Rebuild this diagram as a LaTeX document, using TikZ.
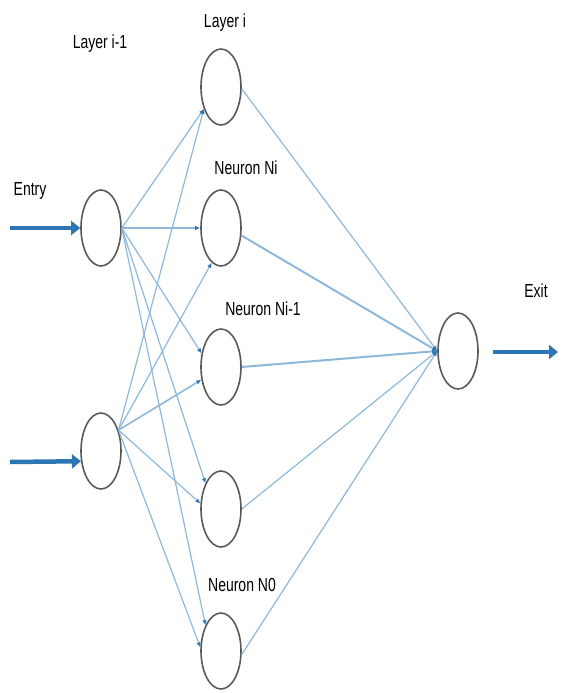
\documentclass[tikz,border=0pt]{standalone}
\usepackage{fontspec}
\setmainfont{Liberation Sans}
\usetikzlibrary{shapes,arrows.meta,positioning}
\definecolor{linkblue}{RGB}{141,184,220}
\definecolor{tipblue}{RGB}{46,117,182}
\definecolor{ringgray}{RGB}{89,89,89}
\newcommand{\stretchtxt}[1]{\scalebox{1}[1.35]{#1}}

\begin{document}
\begin{tikzpicture}[x=1pt, y=-1pt,
    neuron/.style={ellipse, draw=ringgray, line width=1.6pt, minimum width=40pt, minimum height=76pt, inner sep=0pt},
    link/.style={draw=linkblue, line width=1.2pt, -{Latex[length=5pt,width=4.5pt,color=tipblue]}},
    io/.style={draw=tipblue, line width=4.5pt, -{Triangle[length=9pt,width=14pt]}},
    tag/.style={font=\fontsize{14}{16}\selectfont, inner sep=0pt}]
    \useasboundingbox (0,0) rectangle (560,693);

    \node (a1) [neuron] at (101,228) {};
    \node (a2) [neuron] at (101,451) {};
    \node (b1) [neuron] at (221,87) {};
    \node (b2) [neuron] at (221,228) {};
    \node (b3) [neuron] at (221,367) {};
    \node (b4) [neuron] at (221,509) {};
    \node (b5) [neuron] at (221,651) {};
    \node (c) [neuron] at (458,351) {};

    \node (prevlabel) [tag] at (100,44) {\stretchtxt{Layer i-1}};
    \node (layerlabel) [tag] at (225,23) {\stretchtxt{Layer i}};
    \node (entrylabel) [tag] at (30,191) {\stretchtxt{Entry}};
    \node (nilabel) [tag] at (246,168) {\stretchtxt{Neuron Ni}};
    \node (nmlabel) [tag] at (263,309) {\stretchtxt{Neuron Ni-1}};
    \node (nzlabel) [tag] at (242,585) {\stretchtxt{Neuron N0}};
    \node (exitlabel) [tag] at (536,291) {\stretchtxt{Exit}};

    \coordinate (in1) at (10,228);
    \coordinate (in2) at (10,462);
    \coordinate (outstart) at (493,352);
    \coordinate (outend) at (558,352);
    \draw[io] (in1) -- (a1.west);
    \draw[io] (in2) -- (a2.207);
    \draw[io] (outstart) -- (outend);

    \draw[link] (a1.east) -- (b1.232);
    \draw[link, line width=1.8pt] (a1.east) -- (b2.west);
    \draw[link] (a1.east) -- (b3.145);
    \draw[link] (a1.east) -- (b4.121);
    \draw[link] (a1.east) -- (b5.121);
    \draw[link] (a2.50) -- (b1.232);
    \draw[link] (a2.50) -- (b2.255);
    \draw[link, line width=1.6pt] (a2.50) -- (b3.213);
    \draw[link] (a2.50) -- (b4.165);
    \draw[link] (a2.50) -- (b5.170);

    \draw[link] (b1.-5) -- (c.west);
    \draw[link, line width=2pt] (b2.-20) -- (c.west);
    \draw[link, line width=2pt] (b3.east) -- (c.west);
    \draw[link] (b4.east) -- (c.west);
    \draw[link] (b5.-10) -- (c.west);
\end{tikzpicture}
\end{document}
